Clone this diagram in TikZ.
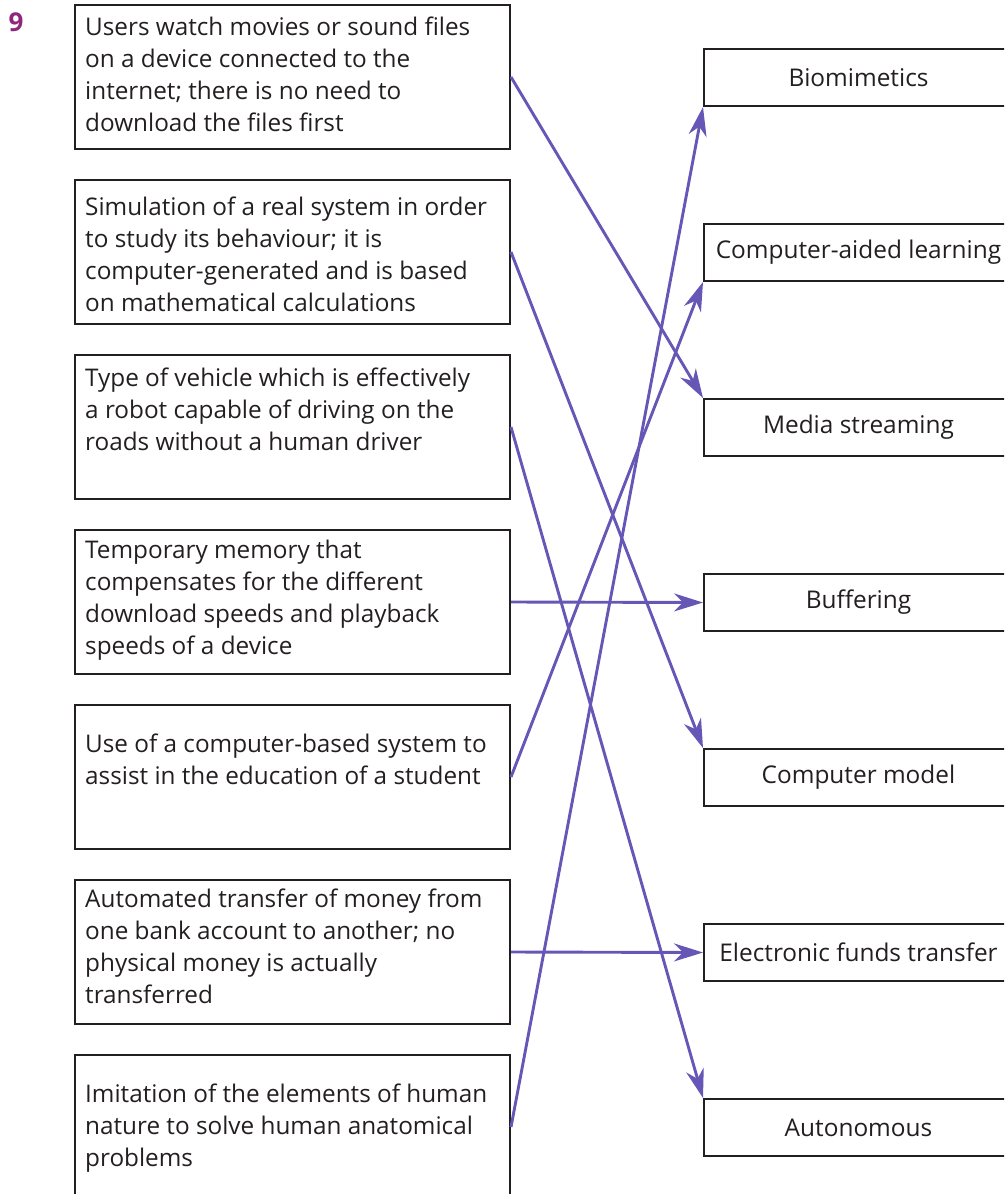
\documentclass[tikz,border=0pt]{standalone}
\usepackage{fontspec}
\setmainfont{Open Sans}
\usetikzlibrary{arrows.meta}
\definecolor{linkblue}{RGB}{102,86,182}
\definecolor{qnum}{RGB}{142,38,124}
\definecolor{ink}{RGB}{35,31,32}
\begin{document}
\begin{tikzpicture}[x=1pt,y=-1pt,
  descbox/.style={draw=ink,line width=2pt,minimum width=435pt,minimum height=144pt,inner sep=0pt,anchor=north west},
  termbox/.style={draw=ink,line width=2pt,minimum width=309pt,minimum height=57pt,inner sep=0pt,anchor=north west,
    text=ink,font=\fontsize{24.4}{32}\selectfont},
  desctext/.style={anchor=base west,inner sep=0pt,align=left,text=ink,font=\fontsize{24.3}{32}\selectfont},
  link/.style={draw=linkblue,line width=2.9pt,-{Stealth[length=29pt,width=18pt,inset=9pt]}}]
\useasboundingbox (0,0) rectangle (1004,1194);
\begin{scope}
\clip (0,0) rectangle (1004,1194);
% question number
\node[text=qnum,font=\fontsize{26}{30}\selectfont\bfseries] (qn) at (16,22) {9};
% description boxes (left column)
\node[descbox] (d1) at (74,4) {};
\node[descbox] (d2) at (74,179) {};
\node[descbox] (d3) at (74,354) {};
\node[descbox] (d4) at (74,529) {};
\node[descbox] (d5) at (74,704) {};
\node[descbox] (d6) at (74,879) {};
\node[descbox] (d7) at (74,1054) {};
% descriptions, placed by the baseline of their last line
\node[desctext] (t1) at (85,131) {Users watch movies or sound files\\on a device connected to the\\internet; there is no need to\\download the files first};
\node[desctext] (t2) at (85,311) {Simulation of a real system in order\\to study its behaviour; it is\\computer-generated and is based\\on mathematical calculations};
\node[desctext] (t3) at (85,450) {Type of vehicle which is effectively\\a robot capable of driving on the\\roads without a human driver};
\node[desctext] (t4) at (85,654) {Temporary memory that\\compensates for the different\\download speeds and playback\\speeds of a device};
\node[desctext] (t5) at (85,784) {Use of a computer-based system to\\assist in the education of a student};
\node[desctext] (t6) at (85,1003) {Automated transfer of money from\\one bank account to another; no\\physical money is actually\\transferred};
\node[desctext] (t7) at (85,1166) {Imitation of the elements of human\\nature to solve human anatomical\\problems};
% term boxes (right column)
\node[termbox] (r1) at (703,48) {Biomimetics};
\node[termbox] (r2) at (703,223) {Computer-aided learning};
\node[termbox] (r3) at (703,398) {Media streaming};
\node[termbox] (r4) at (703,573) {Buffering};
\node[termbox] (r5) at (703,748) {Computer model};
\node[termbox] (r6) at (703,923) {Electronic funds transfer};
\node[termbox] (r7) at (703,1098) {Autonomous};
\end{scope}
% matching connectors
\draw[link] (d1.east) -- (r3.north west);
\draw[link] (d2.east) -- (r5.north west);
\draw[link] (d3.east) -- (r7.north west);
\draw[link] (d4.east) -- (r4.west);
\draw[link] (d5.east) -- (r2.south west);
\draw[link] (d6.east) -- (r6.west);
\draw[link] (d7.east) -- (r1.south west);
\end{tikzpicture}
\end{document}
